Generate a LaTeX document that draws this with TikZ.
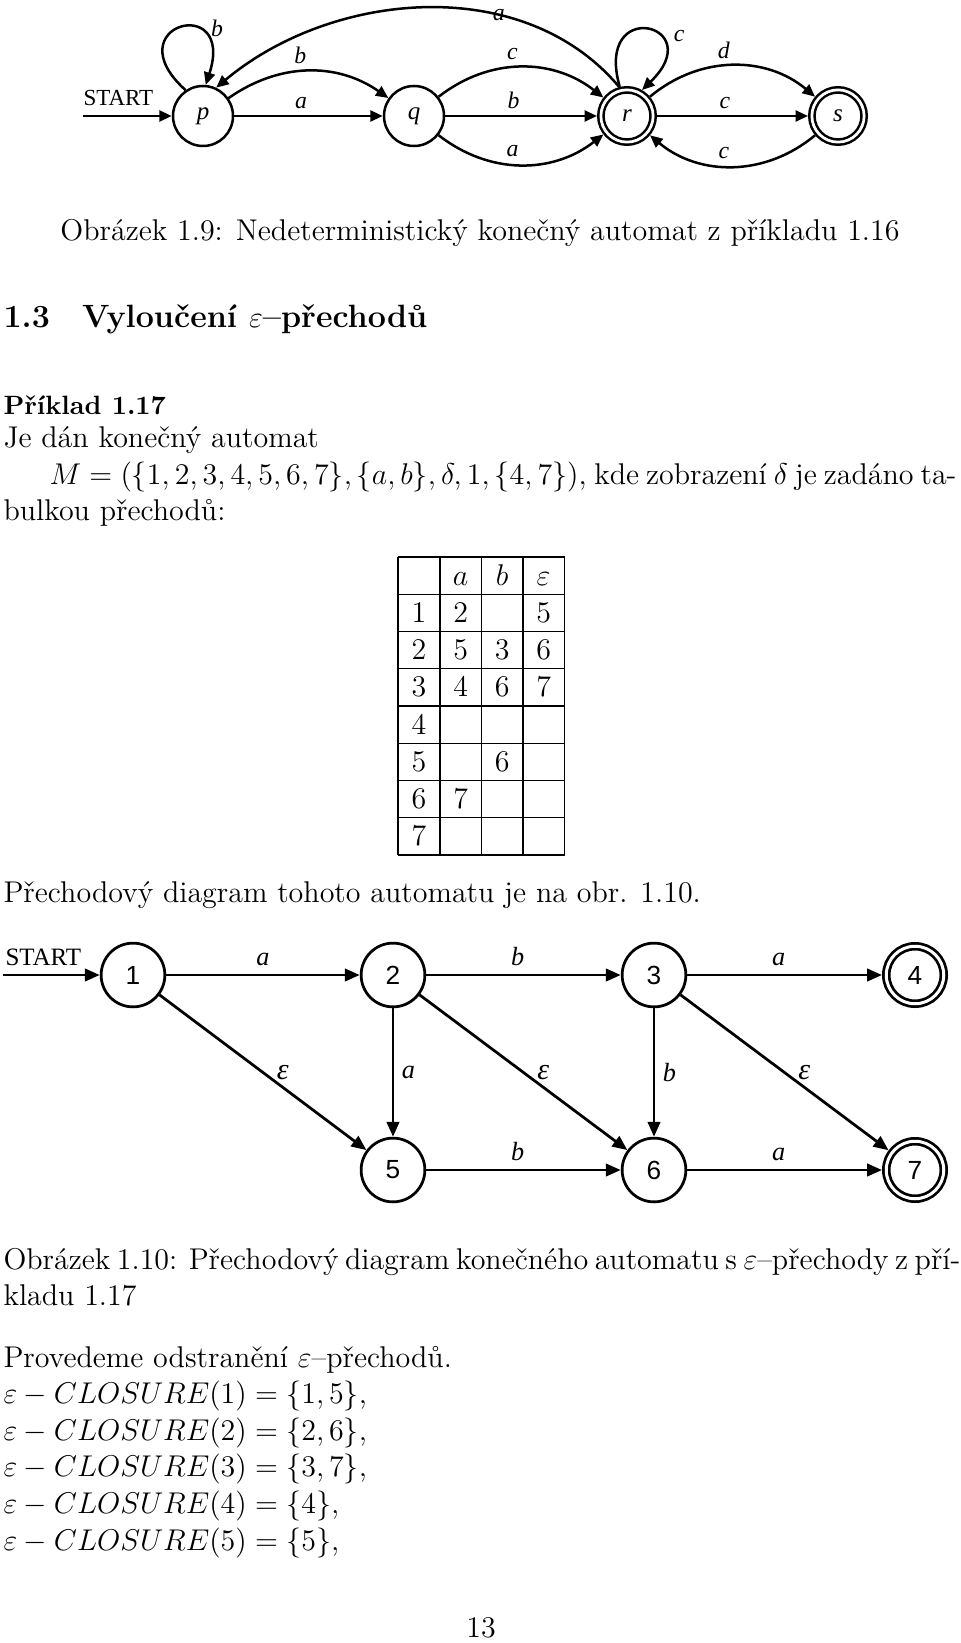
\documentclass[tikz,border=0pt]{standalone}
\usepackage{fontspec}
\usetikzlibrary{arrows.meta}
\newfontfamily\figserif{Liberation Serif}
\newfontfamily\figsans{Liberation Sans}

\begin{document}
\begin{tikzpicture}[x=0.4pt, y=0.4pt,
  txt/.style={anchor=base west, inner sep=0pt, font=\fontsize{12}{14.5}\selectfont},
  cell/.style={anchor=base, inner sep=0pt, font=\fontsize{12}{14.5}\selectfont},
  tabline/.style={line width=0.5pt},
  stnode/.style={circle, draw, line width=1pt, minimum size=24pt, inner sep=0pt,
    font=\figserif\itshape\fontsize{10}{12}\selectfont},
  accept/.style={stnode, double, double distance=1.1pt, minimum size=20.9pt, outer sep=1.55pt},
  num/.style={circle, draw, line width=1.1pt, minimum size=25.5pt, inner sep=0pt,
    font=\figsans\fontsize{10.5}{12}\selectfont},
  numacc/.style={num, double, double distance=1.2pt, minimum size=23pt, outer sep=1.7pt},
  arr/.style={line width=1pt, -{Triangle[length=5pt, width=4.4pt]}},
  arrb/.style={line width=1.1pt, -{Triangle[length=6pt, width=5pt]}},
  lab/.style={inner sep=1pt, font=\figserif\itshape\fontsize{9.5}{11}\selectfont},
  labb/.style={inner sep=1pt, font=\figserif\itshape\fontsize{10.5}{12}\selectfont},
  eps/.style={labb, font=\figserif\itshape\fontsize{12}{14}\selectfont},
  startlab/.style={anchor=base west, inner sep=0pt, font=\figserif\fontsize{9.2}{11}\selectfont}]
\useasboundingbox (0,0) rectangle (960,-1643);

% obrazek 1.9
\coordinate (in1) at (83,-116);
\node[startlab] (start1) at (83,-106) {START};
\node[stnode] (p) at (203,-116) {p};
\node[stnode] (q) at (414,-116) {q};
\node[accept] (r) at (627,-116) {r};
\node[accept] (s) at (838,-116) {s};
\draw[arr] (in1) -- (p);
\draw[arr] (p.124) .. controls +(138:39pt) and +(72:39pt) .. (p.85) node[lab, pos=.5, right=11pt] {b};
\draw[arr] (p) -- node[lab, above=1.5pt, pos=.45] {a} (q);
\draw[arr] (p) to[out=35, in=145] node[lab, above=1.5pt, pos=.45] {b} (q);
\draw[arr] (r.105) .. controls +(130:60pt) and +(40:60pt) .. (p.65) node[lab, pos=.33] {a};
\draw[arr] (q) -- node[lab, above=1.5pt, pos=.45] {b} (r);
\draw[arr] (q) to[out=38, in=142] node[lab, above=1.5pt, pos=.45] {c} (r);
\draw[arr] (q) to[out=-38, in=-142] node[lab, above=1.5pt, pos=.45] {a} (r);
\draw[arr] (r.104) .. controls +(106:38pt) and +(44:38pt) .. (r.60) node[lab, pos=.62, right=5pt] {c};
\draw[arr] (r) to[out=40, in=140] node[lab, above=1.5pt, pos=.45] {d} (s);
\draw[arr] (r) -- node[lab, above=1.5pt, pos=.45] {c} (s);
\draw[arr] (s) to[out=-140, in=-40] node[lab, above=1.5pt, pos=.55] {c} (r);

\node[txt, anchor=base] (cap1) at (480,-241) {Obrázek 1.9: Nedeterministický konečný automat z příkladu 1.16};
\node[txt, font=\fontsize{12.9}{16}\bfseries] (sec) at (3,-328) {1.3\quad Vyloučení $\varepsilon$--přechodů};
\node[txt, font=\fontsize{10.6}{13}\bfseries] (pr) at (3,-415) {Příklad 1.17};
\node[txt] (l1) at (3,-448) {Je dán konečný automat};
\node[txt] (l2) at (49,-485) {\makebox[362.8pt][s]{$M=(\{1,2,3,4,5,6,7\},\{a,b\},\delta,1,\{4,7\})$, kde zobrazení $\delta$ je zadáno ta-}};
\node[txt] (l3) at (3,-521) {bulkou přechodů:};

% tabulka
\foreach \x in {398,440,481.5,523,564.5}
  \draw[tabline] (\x,-557) -- (\x,-855);
\foreach \k in {0,...,8}
  \draw[tabline] (398,{-557-37.25*\k}) -- (564.5,{-557-37.25*\k});
\foreach \t [count=\c] in {a,b,\varepsilon}
  \node[cell] (h\c) at ({419+41.5*\c},-585.2) {$\t$};
\foreach \a/\b/\e [count=\r] in {2/{}/5, 5/3/6, 4/6/7, {}/{}/{}, {}/6/{}, 7/{}/{}, {}/{}/{}} {
  \node[cell] (c\r-0) at (419,{-585.2-37.25*\r}) {$\r$};
  \node[cell] (c\r-1) at (460.75,{-585.2-37.25*\r}) {$\a$};
  \node[cell] (c\r-2) at (502.25,{-585.2-37.25*\r}) {$\b$};
  \node[cell] (c\r-3) at (543.75,{-585.2-37.25*\r}) {$\e$};
}

\node[txt] (l4) at (3,-902) {Přechodový diagram tohoto automatu je na obr. 1.10.};

% obrazek 1.10
\coordinate (in2) at (3,-975);
\node[startlab, font=\figserif\fontsize{10}{12}\selectfont] (start2) at (5,-965) {START};
\node[num] (n1) at (133,-975) {1};
\node[num] (n2) at (393,-975) {2};
\node[num] (n3) at (654,-975) {3};
\node[numacc] (n4) at (915,-975) {4};
\node[num] (n5) at (393,-1170) {5};
\node[num] (n6) at (654,-1170) {6};
\node[numacc] (n7) at (915,-1170) {7};
\draw[arrb] (in2) -- (n1);
\draw[arrb] (n1) -- node[labb, above=2pt] {a} (n2);
\draw[arrb] (n2) -- node[labb, above=2pt, pos=.47] {b} (n3);
\draw[arrb] (n3) -- node[labb, above=2pt, pos=.47] {a} (n4);
\draw[arrb] (n1) -- node[eps, right=4pt] {ε} (n5);
\draw[arrb] (n2) -- node[labb, right=2pt] {a} (n5);
\draw[arrb] (n2) -- node[eps, right=4pt] {ε} (n6);
\draw[arrb] (n3) -- node[labb, right=2pt] {b} (n6);
\draw[arrb] (n3) -- node[eps, right=4pt] {ε} (n7);
\draw[arrb] (n5) -- node[labb, above=2pt, pos=.47] {b} (n6);
\draw[arrb] (n6) -- node[labb, above=2pt, pos=.47] {a} (n7);

\node[txt] (cap2) at (3,-1269) {\makebox[381.2pt][s]{Obrázek 1.10: Přechodový diagram konečného automatu s $\varepsilon$--přechody z pří-}};
\node[txt] (cap2b) at (3,-1305) {kladu 1.17};
\node[txt] (l5) at (3,-1367) {Provedeme odstranění $\varepsilon$--přechodů.};
\foreach \n/\m [count=\i] in {1/{1,5}, 2/{2,6}, 3/{3,7}, 4/{4}, 5/{5}}
  \node[txt] (cl\i) at (3,{-1367-36.6*\i}) {$\varepsilon-CLOSURE(\n)=\{\m\}$,};
\node[txt, anchor=base] (pg) at (481,-1637) {13};
\end{tikzpicture}
\end{document}
